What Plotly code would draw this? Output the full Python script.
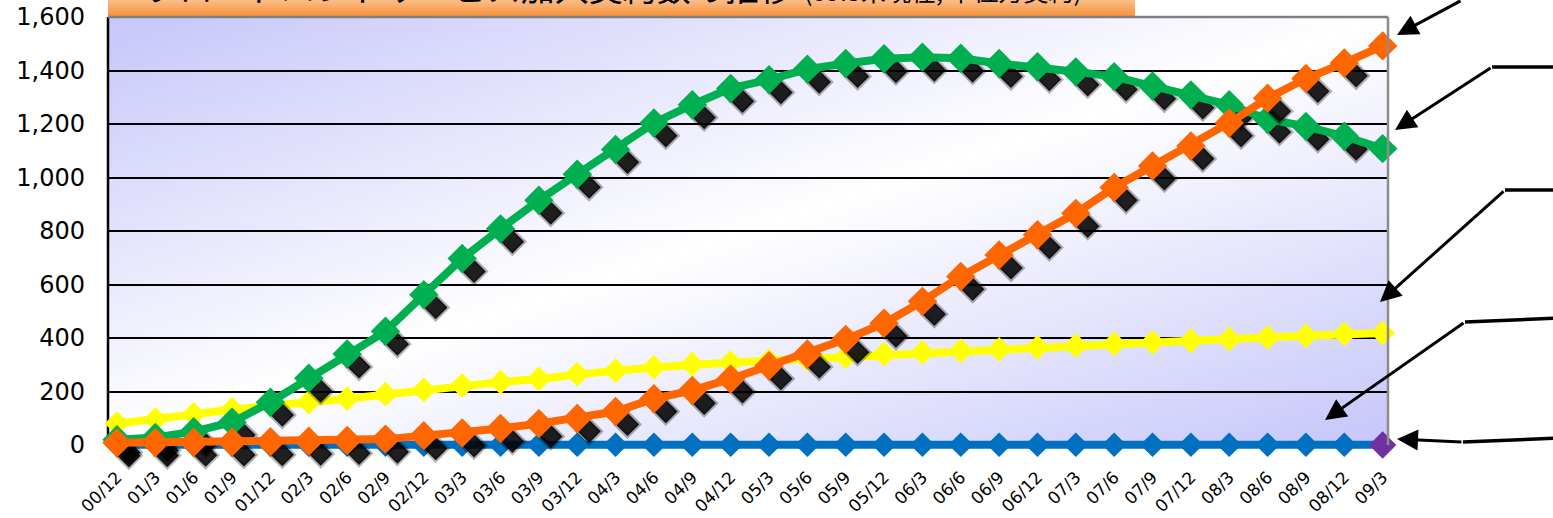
import base64
import plotly.graph_objects as go

# Quarter-end labels (YY/M)
periods = ["00/12", "01/3", "01/6", "01/9", "01/12", "02/3", "02/6", "02/9", "02/12",
           "03/3", "03/6", "03/9", "03/12", "04/3", "04/6", "04/9", "04/12",
           "05/3", "05/6", "05/9", "05/12", "06/3", "06/6", "06/9", "06/12",
           "07/3", "07/6", "07/9", "07/12", "08/3", "08/6", "08/9", "08/12", "09/3"]

# Subscriptions (10,000 contracts)
dsl = [20, 28, 50, 85, 160, 250, 340, 425, 562, 697, 808, 915, 1012, 1105, 1204, 1272, 1333,
       1366, 1405, 1426, 1444, 1450, 1446, 1426, 1414, 1395, 1377, 1342, 1309, 1272, 1218,
       1191, 1154, 1108]
ftth = [8, 9, 10, 11, 12, 14, 17, 22, 35, 45, 62, 80, 99, 125, 173, 204, 247, 296, 340, 395,
        455, 537, 630, 710, 786, 866, 963, 1043, 1118, 1204, 1296, 1370, 1428, 1492]
catv = [80, 95, 115, 133, 150, 160, 173, 190, 206, 222, 235, 247, 265, 278, 290, 302, 308,
        315, 322, 330, 340, 346, 352, 358, 365, 372, 378, 384, 390, 396, 402, 408, 415, 419]
fwa = [1, 1, 1, 1, 1, 1, 1, 1, 1, 1, 1, 1, 1, 1, 1, 1, 1, 1, 1, 1, 1, 1, 1, 1, 1, 1, 1,
       1, 1, 1, 1, 1, 1, 1]
bwa = [None, None, None, None, None, None, None, None, None, None, None, None, None, None,
       None, None, None, None, None, None, None, None, None, None, None, None, None, None,
       None, None, None, None, None, 0]

y_ticks = [0, 200, 400, 600, 800, 1000, 1200, 1400, 1600]

idx = list(range(len(periods)))

# geometry in pixels: value 1600 at y=17, value 0 at y=445; the axes box reaches a little
# lower (y=B) so the marker shadows under the zero line are kept
W, H = 1553, 518
L, R, T, Y0, B = 108, 1388, 17, 445, 462
Y_PER_PX = 1600 / (Y0 - T)
Y_MIN = -(B - Y0) * Y_PER_PX


def px(x):
    return (x - L) / (R - L)


def py(y):
    return (B - y) / (B - T)


def svg_uri(svg):
    return "data:image/svg+xml;base64," + base64.b64encode(svg.encode()).decode()


plot_bg = svg_uri(
    '<svg xmlns="http://www.w3.org/2000/svg" width="1280" height="428" viewBox="0 0 1280 428" '
    'preserveAspectRatio="none"><defs><linearGradient id="g" x1="0" y1="0" x2="1" y2="1">'
    '<stop offset="0" stop-color="#c6c6fa"/><stop offset="0.5" stop-color="#ffffff"/>'
    '<stop offset="1" stop-color="#c6c6fa"/></linearGradient></defs>'
    '<rect width="1280" height="428" fill="url(#g)"/></svg>')

title_bg = svg_uri(
    '<svg xmlns="http://www.w3.org/2000/svg" width="1027" height="50" viewBox="0 0 1027 50" '
    'preserveAspectRatio="none"><defs><linearGradient id="t" x1="0" y1="0" x2="0" y2="1">'
    '<stop offset="0" stop-color="#fff4ea"/><stop offset="0.55" stop-color="#fcd0a8"/>'
    '<stop offset="1" stop-color="#f7923a"/></linearGradient></defs>'
    '<rect width="1027" height="50" fill="url(#t)"/></svg>')

# shadow offset in data units (about 12 px right, 13 px down)
sdx, sdy = 0.31, 48

fig = go.Figure()


def add_series(values, color, size, width, shadow):
    if shadow:
        fig.add_trace(go.Scatter(
            x=[i + sdx for i in idx], y=[v - sdy if v is not None else None for v in values],
            mode="markers", cliponaxis=False, hoverinfo="skip", showlegend=False,
            marker=dict(symbol="diamond", size=size - 3, color="rgba(0,0,0,0.88)",
                        line=dict(width=4, color="rgba(0,0,0,0.3)"))))
    fig.add_trace(go.Scatter(
        x=idx, y=values, mode="lines+markers", cliponaxis=False, showlegend=False,
        line=dict(color=color, width=width),
        marker=dict(symbol="diamond", size=size, color=color,
                    line=dict(width=1.5 if shadow else 0, color=color))))


add_series(fwa, "#0070c0", 19, 8, False)
add_series(catv, "#ffff00", 19, 8, False)
add_series(dsl, "#00b050", 21, 8, True)
add_series(ftth, "#ff6600", 21, 8, True)
fig.add_trace(go.Scatter(
    x=idx, y=bwa, mode="markers", cliponaxis=False, showlegend=False,
    marker=dict(symbol="diamond", size=21, color="#7030a0")))

# frame: black value axis on the left, grey top and right edges
shapes = [
    dict(type="line", xref="paper", yref="paper", x0=0, x1=0, y0=py(Y0 + 2), y1=1,
         line=dict(color="black", width=2.5), layer="below"),
    dict(type="line", xref="paper", yref="paper", x0=0, x1=1, y0=1, y1=1,
         line=dict(color="#7f7f7f", width=2.5)),
    dict(type="line", xref="paper", yref="paper", x0=1, x1=1, y0=py(Y0), y1=1,
         line=dict(color="#8c8c8c", width=2.5)),
]

# leader arrows on the right: (tip, elbow, right end)
leaders = [
    ((1397, 35), (1462, -18), None),
    ((1395, 130), (1492, 67), (1560, 67)),
    ((1380, 302), (1505, 190), (1560, 190)),
    ((1325, 420), (1465, 322), (1560, 318)),
    ((1397, 439), (1463, 442), (1560, 438)),
]
annotations = []
for tip, elbow, end in leaders:
    annotations.append(dict(
        x=px(tip[0]), y=py(tip[1]), xref="paper", yref="paper", text="",
        showarrow=True, arrowhead=2, arrowsize=1.4, arrowwidth=3, arrowcolor="black",
        ax=elbow[0] - tip[0], ay=elbow[1] - tip[1], standoff=0))
    if end is not None:
        shapes.append(dict(type="line", xref="paper", yref="paper",
                           x0=px(elbow[0]), y0=py(elbow[1]), x1=px(end[0]), y1=py(end[1]),
                           line=dict(color="black", width=3.5)))

# chart title in an orange banner
annotations.append(dict(
    x=px(143), y=py(13), xref="paper", yref="paper", xanchor="left", yanchor="bottom",
    showarrow=False,
    text="ブロードバンドサービス加入契約数の推移<span style='font-size:25px'>  (09.3末現在, 単位万契約)</span>",
    font=dict(family="Noto Sans CJK JP", size=34, color="black")))

fig.update_layout(
    width=W, height=H,
    margin=dict(l=L, r=W - R, t=T, b=H - B, pad=0, autoexpand=False),
    paper_bgcolor="white", plot_bgcolor="rgba(0,0,0,0)",
    images=[
        dict(source=plot_bg, xref="paper", yref="paper", x=0, y=1, sizex=1,
             sizey=1 - py(Y0), sizing="stretch", layer="below",
             xanchor="left", yanchor="top"),
        dict(source=title_bg, xref="paper", yref="paper", x=0, y=py(-34),
             sizex=px(1135) - px(108), sizey=py(-34) - py(16),
             sizing="stretch", layer="above", xanchor="left", yanchor="top"),
    ],
    shapes=shapes, annotations=annotations,
    xaxis=dict(range=[-0.235, 33.14], tickvals=idx, ticktext=periods, tickangle=-45,
               tickfont=dict(family="DejaVu Sans", size=17, color="black"),
               showgrid=False, zeroline=False, showline=False, ticks="",
               ticklabelstandoff=1, automargin=False),
    yaxis=dict(range=[Y_MIN, 1600], tickvals=y_ticks, ticktext=[f"{v:,}" for v in y_ticks],
               tickfont=dict(family="DejaVu Sans", size=24, color="black"),
               showgrid=True, gridcolor="black", gridwidth=1.6, zeroline=False,
               showline=False, ticks="", ticklabelstandoff=22, automargin=False),
)

fig.write_html("out.html")
